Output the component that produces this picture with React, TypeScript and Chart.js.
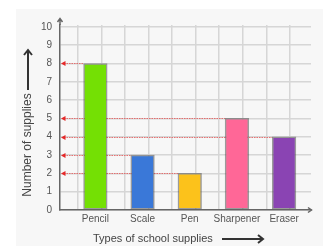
import { useEffect, useRef } from 'react';
import { Chart, registerables } from 'chart.js';
Chart.register(...registerables);

const categories = ['Pencil', 'Scale', 'Pen', 'Sharpener', 'Eraser'];
const supplies = [8, 3, 2, 5, 4];
const barColors = ['#74e004', '#3a78d8', '#fcc21b', '#ff6797', '#8a44b3'];
const yTitle = 'Number of supplies';
const xTitle = 'Types of school supplies';
const FONT = "'Liberation Sans', Arial, sans-serif";

const decor = {
  id: 'decor',
  beforeDraw(chart: any) {
    const ctx = chart.ctx;
    ctx.save();
    ctx.fillStyle = '#f7f7f7';
    ctx.fillRect(16, 9, chart.width - 16, chart.height - 9);
    ctx.restore();
  },
  beforeDatasetsDraw(chart: any) {
    const ctx = chart.ctx;
    const left = chart.chartArea.left;
    const meta = chart.getDatasetMeta(0);
    ctx.save();
    meta.data.forEach((bar: any) => {
      const p = bar.getProps(['x', 'y', 'width'], true);
      const x1 = p.x - p.width / 2;
      const y = Math.round(p.y) + 0.5;
      ctx.strokeStyle = 'rgba(232,90,90,0.85)';
      ctx.lineWidth = 1;
      ctx.setLineDash([1.5, 1]);
      ctx.beginPath();
      ctx.moveTo(left + 4, y);
      ctx.lineTo(x1, y);
      ctx.stroke();
      ctx.setLineDash([]);
      ctx.fillStyle = '#e52727';
      ctx.beginPath();
      ctx.moveTo(left + 1, y);
      ctx.lineTo(left + 5.5, y - 2.5);
      ctx.lineTo(left + 5.5, y + 2.5);
      ctx.closePath();
      ctx.fill();
    });
    ctx.restore();
  },
  afterDraw(chart: any) {
    const ctx = chart.ctx;
    const { left, top, right, bottom } = chart.chartArea;
    ctx.save();
    // axis arrows
    ctx.strokeStyle = '#666';
    ctx.lineWidth = 1.5;
    ctx.beginPath();
    ctx.moveTo(left, top);
    ctx.lineTo(left, top - 6);
    ctx.moveTo(left - 2.5, top - 3);
    ctx.lineTo(left, top - 6.5);
    ctx.lineTo(left + 2.5, top - 3);
    ctx.moveTo(right - 3, bottom - 2.5);
    ctx.lineTo(right + 0.5, bottom);
    ctx.lineTo(right - 3, bottom + 2.5);
    ctx.stroke();

    // x title and arrow
    ctx.fillStyle = '#444';
    ctx.font = `11px ${FONT}`;
    ctx.textAlign = 'left';
    ctx.textBaseline = 'middle';
    ctx.fillText(xTitle, 93, 239);
    ctx.strokeStyle = '#333';
    ctx.lineWidth = 2;
    ctx.beginPath();
    ctx.moveTo(222, 239);
    ctx.lineTo(263, 239);
    ctx.moveTo(258, 235);
    ctx.lineTo(263, 239);
    ctx.lineTo(258, 243);
    ctx.stroke();

    // y title and arrow
    ctx.save();
    ctx.translate(28, 145);
    ctx.rotate(-Math.PI / 2);
    ctx.font = `12px ${FONT}`;
    ctx.textAlign = 'center';
    ctx.fillText(yTitle, 0, 0);
    ctx.restore();
    ctx.beginPath();
    ctx.moveTo(28, 90);
    ctx.lineTo(28, 50);
    ctx.moveTo(24, 55);
    ctx.lineTo(28, 50);
    ctx.lineTo(32, 55);
    ctx.stroke();
    ctx.restore();
  },
};

export default function App() {
  const ref = useRef<HTMLCanvasElement>(null);
  useEffect(() => {
    if (!ref.current) return;
    const chart = new Chart(ref.current, {
      type: 'bar',
      data: {
        datasets: [
          {
            data: categories.map((c, i) => ({ x: 2 * i + 1.5, y: supplies[i] })) as any,
            backgroundColor: barColors,
            borderColor: 'rgba(80,80,80,0.55)',
            borderWidth: 1.5,
            borderSkipped: false,
            barThickness: 'flex',
            categoryPercentage: 0.5,
            barPercentage: 1,
          } as any,
        ],
      },
      options: {
        animation: false,
        responsive: true,
        maintainAspectRatio: false,
        layout: { padding: { top: 25, right: 12, left: 0, bottom: 0 } },
        plugins: { legend: { display: false }, tooltip: { enabled: false } },
        scales: {
          x: {
            type: 'linear',
            min: 0,
            max: 10.64,
            offset: false,
            afterBuildTicks: (s: any) => {
              const t = [];
              for (let k = 0; k <= 20; k++) t.push({ value: k / 2 });
              s.ticks = t;
            },
            afterFit: (s: any) => {
              s.height = 36;
            },
            ticks: {
              autoSkip: false,
              maxRotation: 0,
              minRotation: 0,
              padding: 3,
              color: '#555',
              font: { family: FONT, size: 10 },
              callback: (v: any) => {
                const i = (Number(v) - 1.5) / 2;
                return Number.isInteger(i) && categories[i] ? categories[i] : '';
              },
            },
            grid: {
              drawTicks: false,
              lineWidth: 1.5,
              color: (c: any) => (c.tick && Number.isInteger(c.tick.value) ? '#d6d6d6' : 'rgba(0,0,0,0)'),
            },
            border: { color: '#666', width: 1.5 },
          } as any,
          y: {
            type: 'linear',
            min: 0,
            max: 10.1,
            afterFit: (s: any) => {
              s.width = 60;
            },
            ticks: {
              stepSize: 1,
              includeBounds: false,
              padding: 8,
              color: '#555',
              font: { family: FONT, size: 10 },
            },
            grid: { drawTicks: false, lineWidth: 1.5, color: '#d6d6d6' },
            border: { color: '#666', width: 1.5 },
          } as any,
        },
      },
      plugins: [decor],
    });
    return () => chart.destroy();
  }, []);
  return (
    <div style={{ position: 'fixed', left: 0, top: 0, width: 323, height: 246, background: '#fff' }}>
      <canvas ref={ref} />
    </div>
  );
}
